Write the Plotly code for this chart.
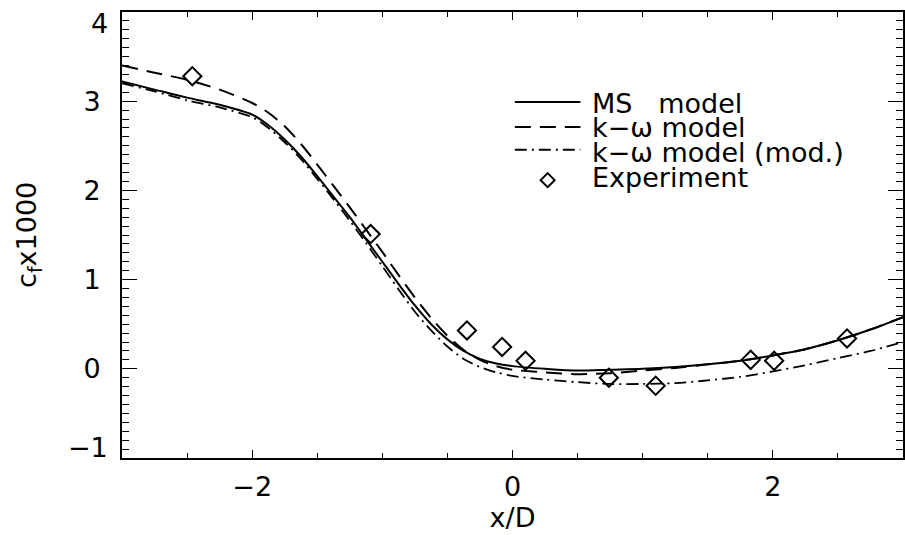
import plotly.graph_objects as go

# ---- data ----
x_curve = [-3.0, -2.75, -2.5, -2.25, -2.0, -1.875, -1.75, -1.625, -1.5, -1.375, -1.25,
           -1.125, -1.0, -0.875, -0.75, -0.625, -0.5, -0.375, -0.25, -0.125, 0.0,
           0.25, 0.5, 0.75, 1.0, 1.25, 1.5, 1.75, 2.0, 2.25, 2.5, 2.75, 3.0]

ms_model = [3.22, 3.13, 3.04, 2.96, 2.85, 2.73, 2.57, 2.38, 2.16, 1.93, 1.70,
            1.45, 1.20, 0.95, 0.71, 0.50, 0.33, 0.20, 0.11, 0.06, 0.03,
            0.00, -0.02, -0.01, 0.00, 0.02, 0.05, 0.09, 0.15, 0.22, 0.32, 0.44, 0.58]

kw_model = [3.40, 3.32, 3.24, 3.13, 2.98, 2.87, 2.72, 2.52, 2.29, 2.05, 1.81,
            1.56, 1.31, 1.05, 0.80, 0.57, 0.37, 0.21, 0.10, 0.03, -0.01,
            -0.04, -0.06, -0.05, -0.02, 0.01, 0.05, 0.09, 0.15, 0.22, 0.32, 0.44, 0.58]

kw_mod = [3.20, 3.11, 3.01, 2.93, 2.82, 2.70, 2.54, 2.35, 2.13, 1.90, 1.66,
          1.41, 1.15, 0.89, 0.64, 0.43, 0.25, 0.11, 0.02, -0.04, -0.08,
          -0.12, -0.15, -0.17, -0.17, -0.16, -0.13, -0.09, -0.03, 0.04, 0.12, 0.20, 0.30]

x_exp = [-2.46, -1.09, -0.35, -0.08, 0.10, 0.74, 1.10, 1.83, 2.01, 2.57]
y_exp = [3.28, 1.51, 0.43, 0.245, 0.09, -0.10, -0.19, 0.10, 0.09, 0.34]

legend_labels = ["MS\u00a0\u00a0\u00a0model", "k\u2212\u03c9 model", "k\u2212\u03c9 model (mod.)", "Experiment"]

x_ticks = [-2, 0, 2]
y_ticks = [0, 1, 2, 3]
y_end_ticks = [(4, "4", -11), (-1, "\u22121", 10)]   # end labels, nudged inward like the original
y_title = "c<sub>f</sub>x1000"
x_title = "x/D"

FONT = "DejaVu Sans"
FS = 27

fig = go.Figure()
fig.add_trace(go.Scatter(x=x_curve, y=ms_model, mode="lines", line=dict(color="black", width=2),
                         line_shape="spline", line_smoothing=0.8, showlegend=False))
fig.add_trace(go.Scatter(x=x_curve, y=kw_model, mode="lines",
                         line=dict(color="black", width=2, dash="16px,9px"),
                         line_shape="spline", line_smoothing=0.8, showlegend=False))
fig.add_trace(go.Scatter(x=x_curve, y=kw_mod, mode="lines",
                         line=dict(color="black", width=1.8, dash="12px,5px,2px,5px"),
                         line_shape="spline", line_smoothing=0.8, showlegend=False))
fig.add_trace(go.Scatter(x=x_exp, y=y_exp, mode="markers",
                         marker=dict(symbol="diamond-open", size=14, color="black",
                                     line=dict(color="black", width=2)),
                         showlegend=False, cliponaxis=False))

# ---- manual legend (decoration) ----
rows_line = [0.798, 0.742, 0.691]
row_diamond = 0.623
rows_text = [0.794, 0.740, 0.686, 0.630]
dashes = ["solid", "16px,9px", "12px,5px,2px,5px"]
for yy, d in zip(rows_line, dashes):
    fig.add_shape(type="line", xref="paper", yref="paper", x0=0.503, x1=0.587, y0=yy, y1=yy,
                  line=dict(color="black", width=2, dash=d))
fig.add_shape(type="path", xref="paper", yref="paper", xsizemode="pixel", ysizemode="pixel",
              xanchor=0.545, yanchor=row_diamond, path="M0,7 L7,0 L0,-7 L-7,0 Z",
              line=dict(color="black", width=2))
for yy, lab in zip(rows_text, legend_labels):
    fig.add_annotation(text=lab, xref="paper", yref="paper", x=0.599, y=yy,
                       xanchor="left", yanchor="middle", showarrow=False,
                       font=dict(family=FONT, size=FS, color="black"))

for val, txt, shift in y_end_ticks:
    fig.add_annotation(text=txt, xref="paper", yref="y", x=0, y=val, xanchor="right",
                       yanchor="middle", xshift=-12, yshift=shift, showarrow=False,
                       font=dict(family=FONT, size=FS, color="black"))

# y-axis title
fig.add_annotation(text=y_title, xref="paper", yref="paper", x=-0.1204, y=0.5,
                   xanchor="center", yanchor="middle", textangle=-90, showarrow=False,
                   font=dict(family=FONT, size=FS, color="black"))

axis_common = dict(showline=True, linecolor="black", linewidth=1.6, mirror="allticks",
                   ticks="inside", tickcolor="black", tickwidth=1.3, showgrid=False,
                   zeroline=False, automargin=False, ticklabeloverflow="allow",
                   tickfont=dict(family=FONT, size=FS, color="black"))

fig.update_xaxes(range=[-3, 3], tickvals=x_ticks, ticklen=8, ticklabelstandoff=4,
                 minor=dict(dtick=0.5, tick0=0, ticklen=5, ticks="inside", tickcolor="black",
                            showgrid=False),
                 title=dict(text=x_title, font=dict(family=FONT, size=FS, color="black"), standoff=0),
                 **axis_common)
fig.update_yaxes(range=[-1.0001, 4.0001], tickvals=y_ticks,
                 ticklen=15, ticklabelstandoff=14,
                 minor=dict(dtick=0.1, tick0=0, ticklen=7, ticks="inside", tickcolor="black",
                            showgrid=False),
                 **axis_common)

fig.update_layout(width=905, height=535, margin=dict(l=122, r=2, t=12, b=77),
                  paper_bgcolor="white", plot_bgcolor="white",
                  font=dict(family=FONT, size=FS, color="black"))

fig.write_html("out.html", config={"displayModeBar": False},
               post_script="document.body.style.margin='0';")
